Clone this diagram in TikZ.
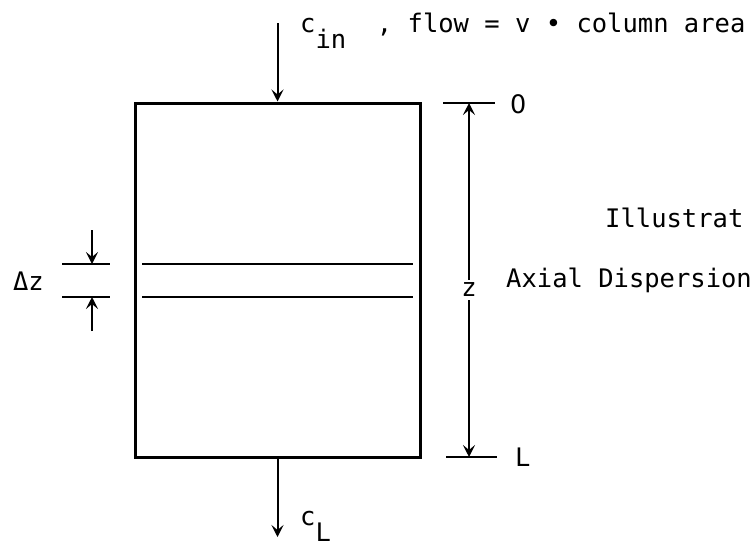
\documentclass[tikz,border=0pt]{standalone}
\usepackage{fontspec}
\setmonofont{DejaVu Sans Mono}
\newfontfamily\plainsans{DejaVu Sans}
\usetikzlibrary{arrows.meta, positioning}

\begin{document}
\begin{tikzpicture}[
    x=1pt, y=-1pt,
    font=\ttfamily\fontsize{25.5}{30}\selectfont,
    >={Stealth[length=12pt,width=12pt,inset=5pt]},
    column/.style={
        rectangle, draw=black, line width=3pt,
        minimum width=285pt, minimum height=354pt, inner sep=0pt
    },
    arr/.style={->, line width=2pt},
    slice/.style={line width=2.4pt},
    tick/.style={line width=2.4pt},
    lbl/.style={inner sep=0pt}
]
\useasboundingbox (0,0) rectangle (751,546);
\clip (0,0) rectangle (751,546);

% Column with feed and outlet
\node[column] (C) at (277.5,280) {};
\coordinate (feed) at (277.5,23);
\coordinate (out) at (277.5,537);
\draw[arr] (feed) -- (C.north);
\draw[arr] (C.south) -- (out);
\node[lbl, anchor=base west] (cin) at (300,32)
    {c\raisebox{-16pt}{in}\ \ ,\ flow = v • column area};
\node[lbl, anchor=base west] (cL) at (300,525) {c\raisebox{-16pt}{L}};

% Slice of thickness dz
\draw[slice] (142,264) -- (413,264);
\draw[slice] (142,297) -- (413,297);

% dz marker
\coordinate (dzA) at (92,230);
\coordinate (dzTop) at (92,264);
\coordinate (dzBot) at (92,297);
\coordinate (dzB) at (92,331);
\draw[tick] (62,264) -- (110,264);
\draw[tick] (62,297) -- (110,297);
\draw[arr] (dzA) -- (dzTop);
\draw[arr] (dzB) -- (dzBot);
\node[lbl, anchor=east] (dz) at (44,281) {Δz};

% Height z from 0 to L
\coordinate (zTop) at (469,103);
\coordinate (zBot) at (469,457);
\draw[tick] (443,103) -- (495,103);
\draw[tick] (446,457) -- (497,457);
\node[lbl, fill=white, inner sep=3pt] (z) at (469,290) {z};
\draw[arr] (z) -- (zTop);
\draw[arr] (z) -- (zBot);
\node[lbl, anchor=west] (zero) at (510,104) {\plainsans 0};
\node[lbl, anchor=west] (ell) at (515,457) {L};

% Caption (cut off at the right edge)
\node[lbl, anchor=base west] (title1) at (605,227) {Illustrat};
\node[lbl, anchor=base west] (title2) at (506,287) {Axial Dispersion};

\end{tikzpicture}
\end{document}
